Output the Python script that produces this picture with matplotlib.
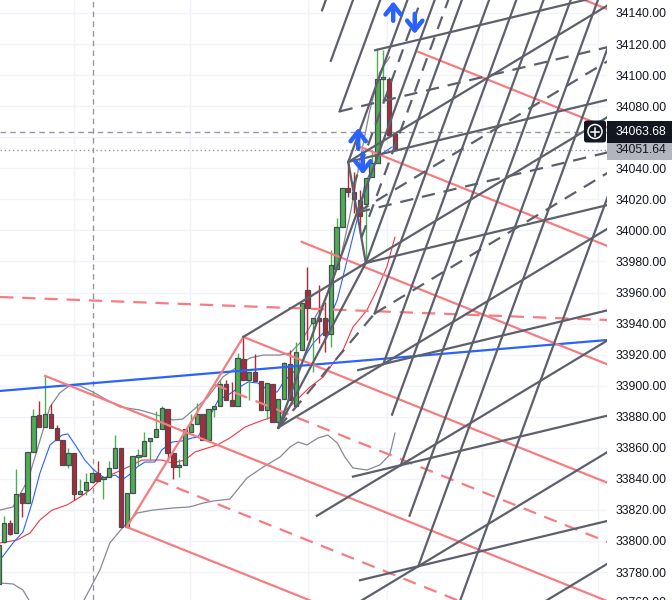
import numpy as np
import matplotlib
matplotlib.use("Agg")
import matplotlib.pyplot as plt
from matplotlib.patches import Rectangle, FancyBboxPatch, Circle

# candles, one per bar
opens = [33772.0, 33799.4, 33811.6, 33805.1, 33830.9, 33824.5, 33857.3, 33881.1, 33873.4, 33881.8,
         33872.8, 33865.0, 33848.9, 33856.7, 33830.3, 33832.8, 33838.0, 33843.8, 33839.9, 33841.2,
         33847.0, 33859.9, 33809.0, 33830.9, 33854.1, 33854.7, 33864.4, 33867.0, 33872.1, 33885.0,
         33856.7, 33847.7, 33848.9, 33870.2, 33875.3, 33881.8, 33865.0, 33885.0, 33886.9, 33901.1,
         33890.8, 33886.9, 33917.2, 33903.7, 33908.8, 33903.0, 33884.4, 33901.1, 33876.6, 33891.4,
         33914.0, 33886.9, 33923.0, 33961.6, 33940.4, 33943.6, 33943.6, 33933.3, 33975.2, 34002.2,
         34027.3, 34024.8, 34019.6, 34017.0, 34034.4, 34043.4, 34097.5, 34097.5, 34062.1]
highs = [33800.6, 33816.1, 33813.5, 33846.4, 33830.9, 33857.3, 33885.0, 33890.2, 33906.3, 33888.2,
         33874.7, 33865.0, 33859.9, 33856.7, 33839.9, 33843.8, 33843.8, 33851.5, 33841.2, 33851.5,
         33868.3, 33859.9, 33830.9, 33854.7, 33859.2, 33870.2, 33866.3, 33883.7, 33886.9, 33885.0,
         33856.7, 33852.8, 33872.1, 33881.8, 33888.9, 33881.8, 33885.0, 33886.9, 33903.7, 33903.7,
         33902.4, 33921.1, 33931.4, 33908.8, 33920.4, 33903.0, 33901.7, 33901.1, 33891.4, 33915.3,
         33923.0, 33928.2, 33953.3, 33976.5, 33943.6, 33964.9, 33953.9, 33987.4, 34008.0, 34027.3,
         34044.1, 34037.6, 34026.0, 34033.8, 34051.8, 34117.5, 34116.2, 34098.8, 34062.1]
lows = [33765.0, 33799.0, 33803.9, 33805.1, 33815.5, 33824.5, 33857.3, 33873.4, 33873.4, 33872.8,
        33865.0, 33848.9, 33847.0, 33826.4, 33830.3, 33829.6, 33838.0, 33838.6, 33827.0, 33841.2,
        33847.0, 33809.0, 33809.0, 33830.9, 33848.3, 33854.7, 33852.2, 33867.0, 33872.1, 33852.2,
        33839.9, 33841.2, 33848.9, 33870.2, 33875.3, 33865.0, 33865.0, 33879.9, 33886.9, 33890.8,
        33886.9, 33886.9, 33903.7, 33890.8, 33903.0, 33884.4, 33878.6, 33876.6, 33872.8, 33891.4,
        33890.8, 33886.9, 33923.0, 33929.4, 33908.8, 33927.5, 33921.7, 33924.9, 33975.2, 34002.2,
        34021.5, 34011.2, 33998.3, 33979.0, 34034.4, 34043.4, 34084.0, 34061.5, 34051.6]
closes = [33797.4, 33811.6, 33804.5, 33830.3, 33824.5, 33857.3, 33880.5, 33873.4, 33881.8, 33872.8,
          33865.0, 33848.9, 33856.7, 33830.3, 33832.2, 33838.0, 33843.8, 33838.6, 33841.2, 33847.0,
          33859.9, 33809.0, 33830.9, 33854.7, 33855.4, 33864.4, 33866.3, 33872.1, 33885.6, 33856.7,
          33847.7, 33848.9, 33872.1, 33875.3, 33881.8, 33865.0, 33885.0, 33886.9, 33901.1, 33890.8,
          33886.9, 33917.8, 33903.7, 33908.8, 33903.0, 33884.4, 33901.7, 33876.6, 33891.4, 33914.6,
          33890.8, 33921.7, 33953.3, 33950.0, 33943.6, 33941.7, 33932.7, 33977.7, 34002.2, 34027.3,
          34024.8, 34020.2, 34009.3, 34033.8, 34043.4, 34097.5, 34098.8, 34061.5, 34051.64]

# indicator lines, sampled as (bar index, price)
fast_x = [0.26, 2.49, 4.2, 5.75, 7.12, 8.83, 10.9, 11.9, 13.5, 14.8, 16.2, 17.4, 18.3, 20.0, 21.2,
          22.6, 23.8, 25.1, 26.8, 28.0, 29.8, 31.5, 33.2, 34.2, 35.9, 37.7, 39.4, 41.1, 42.8, 44.5,
          46.2, 47.8, 48.8, 50.3, 51.4, 52.9, 54.0, 55.7, 58.1, 59.8, 61.5, 62.9, 64.6, 65.9, 67.5]
fast_y = [33787.7, 33798.7, 33805.8, 33824.4, 33843.8, 33861.8, 33868.2, 33868.9, 33859.9, 33852.1,
          33846.3, 33842.5, 33840.5, 33842.5, 33839.3, 33843.1, 33847.6, 33850.8, 33850.8, 33858.6,
          33863.7, 33864.4, 33866.3, 33866.9, 33877.9, 33890.8, 33894.0, 33898.5, 33902.4, 33901.7,
          33897.2, 33895.9, 33901.7, 33908.2, 33910.1, 33921.0, 33927.5, 33933.9, 33955.2, 33980.9,
          34006.7, 34030.5, 34043.4, 34049.8, 34053.7]
slow_x = [0.26, 3.17, 5.4, 7.12, 9.2, 11.75, 14.0, 15.7, 17.4, 20.0, 22.2, 24.6, 28.0, 29.8, 32.0,
          33.7, 37.5, 39.7, 42.3, 44.5, 46.9, 48.6, 50.3, 53.4, 55.7, 57.4, 59.1, 60.8, 63.2, 64.9,
          66.6, 68.0]
slow_y = [33798.7, 33800.6, 33805.1, 33813.5, 33819.9, 33823.2, 33828.3, 33832.8, 33839.3, 33843.8,
          33847.6, 33852.1, 33852.1, 33850.2, 33852.1, 33857.3, 33861.8, 33866.3, 33873.4, 33876.6,
          33879.8, 33882.4, 33887.6, 33899.1, 33905.6, 33914.6, 33923.0, 33937.8, 33948.7, 33961.6,
          33976.4, 33995.7]
upper_x = [0.26, 2.49, 5.06, 6.78, 8.83, 10.5, 12.3, 14.0, 16.2, 18.6, 20.8, 24.3, 27.2, 29.9, 31.6,
           33.4, 35.8, 38.5, 40.9, 43.1, 45.4, 48.3, 50.0, 51.7, 53.4, 55.7, 57.4, 58.6, 60.3, 62.0,
           63.7, 65.4, 67.1]
upper_y = [33819.9, 33821.9, 33839.3, 33860.5, 33886.3, 33895.3, 33900.4, 33899.8, 33895.9, 33890.8,
           33886.3, 33884.3, 33881.1, 33877.9, 33878.5, 33884.3, 33892.1, 33905.6, 33912.0, 33917.8,
           33919.7, 33919.7, 33921.0, 33927.5, 33937.8, 33953.3, 33968.0, 33980.9, 34009.9, 34045.3,
           34077.5, 34102.0, 34111.7]
lower_x = [0.26, 2.49, 4.2, 5.4, 14.5, 17.4, 19.1, 21.4, 23.8, 26.5, 29.9, 32.8, 35.1, 36.8, 39.7,
           42.6, 45.4, 48.3, 50.0, 51.4, 52.9, 54.8, 56.5, 58.1, 59.4, 60.8, 63.2, 65.4, 67.1, 68.0]
lower_y = [33772.9, 33772.3, 33768.4, 33760.7, 33760.7, 33781.3, 33798.7, 33809.0, 33818.0, 33819.9,
           33821.2, 33821.9, 33824.4, 33825.7, 33827.0, 33840.5, 33847.6, 33854.1, 33860.5, 33863.7,
           33861.8, 33866.3, 33868.2, 33863.1, 33854.1, 33847.0, 33845.7, 33848.9, 33855.4, 33869.5]

# drawings
blue_trend_x = [0.26, 104.4]
blue_trend_y = [33896.6, 33929.4]
red_dash_x = [0.26, 104.4]
red_dash_y = [33957.1, 33942.3]

red_fork_bars = [8, 22, 42]          # high, low, high
red_levels = [-1, -0.5, 0, 0.5, 1, 2, 3, 4, 5]
grey_fork_bars = [48, 60, 63]        # low, high, low
grey_levels = [-4, -3, -2, -1, -0.5, 0, 0.5, 1, 2, 3, 4, 5, 6, 7, 9]

# lines from grey fork level points, two slopes (price per bar)
t_slope = 0.9
s_lines = [(-1, 60, "-"), (1, 42, "-"), (3, 48, "-"), (5, 54.6, "-"), (7, 55, "-"), (9, 60, "-"),
           (0, 61.5, "--"), (2, 64.5, "--")]
t_lines = [(-3, 64.6, "-"), (-2, 58.5, "--"), (-1, 60, "-"), (0, 61.5, "--"), (1, 63, "-"),
           (3, 61.7, "-"), (5, 60.8, "-"), (7, 62, "-")]
# fan segments from the grey fork's first point to level points
fan_levels = [(1, "-"), (2, "--")]

# arrow marks: bar, tail price, head price
arrows = [(67.7, 34135.0, 34147.6), (71.4, 34139.5, 34126.5),
          (61.7, 34052.5, 34066.0), (62.5, 34049.5, 34036.0)]

price_ticks = np.arange(33780, 34141, 20)
cross_price = 34063.68
last_price = 34051.64
cross_bar = 16.2
vgrid_bars = [12.95, 32.85, 53.1, 66.6, 82.9, 102.8]

GREEN = "#4caf50"
RED = "#b22833"
GREY = "#5d606b"
PINK = "#f77c80"
BLUE = "#2962ff"
YMIN, YMAX = 33761.97, 34148.37

W, H = 672, 600
fig = plt.figure(figsize=(W / 100, H / 100), dpi=100)
ax = fig.add_axes([0, 0, 607 / W, 1])
ax.set_xlim(0.26, 104.37)
ax.set_ylim(YMIN, YMAX)
for s in ax.spines.values():
    s.set_visible(False)
ax.set_xticks([])
ax.yaxis.tick_right()
ax.set_yticks(price_ticks)
# the 34060 label sits under the crosshair price box
ax.set_yticklabels(["" if abs(v - 34060) < 1 else f"{v:.2f}" for v in price_ticks],
                   family="Liberation Sans")
ax.tick_params(axis="y", length=0, pad=6, labelsize=8.7, labelcolor="#131722")
for v in price_ticks:
    ax.axhline(v, color="#f0f3fa", lw=1, zorder=0)
for b in vgrid_bars:
    ax.axvline(b, color="#f0f3fa", lw=1, zorder=0)

# indicators
ax.plot(upper_x, upper_y, color="#868993", lw=0.9, zorder=2)
ax.plot(lower_x, lower_y, color="#868993", lw=0.9, zorder=2)
ax.plot(slow_x, slow_y, color="#f23645", lw=0.8, zorder=2)
ax.plot(fast_x, fast_y, color=BLUE, lw=0.8, zorder=2)

# candles
for i in range(len(opens)):
    o, h, l, c = opens[i], highs[i], lows[i], closes[i]
    up = c >= o
    ax.vlines(i, l, h, color=GREEN if up else RED, lw=1, zorder=3)
    bot = min(o, c)
    ht = max(abs(c - o), 1.2)
    ax.add_patch(Rectangle((i - 0.37, bot), 0.74, ht, fc=GREEN if up else RED,
                           ec="#4a4d57", lw=0.9, zorder=4))

# crosshair + price lines
ax.axvline(cross_bar, color="#9598a1", lw=1, dashes=(4, 3), zorder=1)
ax.axhline(cross_price, color="#9598a1", lw=1, dashes=(4, 3), zorder=1)
ax.axhline(last_price, color="#9598a1", lw=1, dashes=(1, 2), zorder=1)

# blue trend line and red dashed line
ax.plot(blue_trend_x, blue_trend_y, color=BLUE, lw=1.6, zorder=5)
ax.plot(red_dash_x, red_dash_y, color=PINK, lw=1.6, dashes=(6, 4), zorder=5)


def fork(bars, kinds, levels, color):
    pts = []
    for b, k in zip(bars, kinds):
        pts.append(np.array([b, highs[b] if k == "h" else lows[b]]))
    a, b, c = pts
    m = (b + c) / 2
    d = m - a
    for lv in levels:
        start = a if lv == 0 else m + lv * (c - m)
        end = start + d * 8
        ls = dict(dashes=(6, 4)) if lv in (0.5, -0.5) else {}
        ax.plot([start[0], end[0]], [start[1], end[1]], color=color, lw=1.6, zorder=5, **ls)
    ax.plot([b[0], c[0]], [b[1], c[1]], color=color, lw=1.6, zorder=5)
    return a, b, c, m


fork(red_fork_bars, "hlh", red_levels, PINK)
ga, gb, gc, gm = fork(grey_fork_bars, "lhl", grey_levels, GREY)

# slope of the gentle family: from red fork C to grey fork C
rc = np.array([red_fork_bars[2], highs[red_fork_bars[2]]])
s_slope = (gc[1] - rc[1]) / (gc[0] - rc[0])


def level_pt(k):
    return gm + k * (gc - gm)


for k, x0, st in s_lines:
    p = level_pt(k)
    xs = np.array([x0, 110])
    ys = p[1] + s_slope * (xs - p[0])
    kw = dict(dashes=(6, 4)) if st == "--" else {}
    ax.plot(xs, ys, color=GREY, lw=1.6, zorder=5, **kw)
for k, x0, st in t_lines:
    p = level_pt(k)
    xs = np.array([x0, 110])
    ys = p[1] + t_slope * (xs - p[0])
    kw = dict(dashes=(6, 4)) if st == "--" else {}
    ax.plot(xs, ys, color=GREY, lw=1.6, zorder=5, **kw)
for k, st in fan_levels:
    p = level_pt(k)
    kw = dict(dashes=(6, 4)) if st == "--" else {}
    ax.plot([ga[0], p[0]], [ga[1], p[1]], color=GREY, lw=1.6, zorder=5, **kw)

# arrow marks
for bx, y0, y1 in arrows:
    ax.annotate("", xy=(bx, y1), xytext=(bx, y0),
                arrowprops=dict(arrowstyle="->,head_length=0.7,head_width=0.55",
                                color=BLUE, lw=3.2, shrinkA=0, shrinkB=0), zorder=6)


# price labels on the axis
def fy(p):
    return (p - YMIN) / (YMAX - YMIN)


fig.text(616 / W, fy(33760), "33760.00", color="#131722", fontsize=8.7,
         family="Liberation Sans", va="center")
fig.patches.append(Rectangle((607 / W, fy(last_price) - 10 / H), 65 / W, 20 / H,
                             transform=fig.transFigure, fc="#b2b5be", ec="none", zorder=2))
fig.text(616 / W, fy(last_price), f"{last_price:.2f}", color="#131722", fontsize=8.7,
         family="Liberation Sans", va="center", zorder=4)
fig.patches.append(Rectangle((607 / W, fy(cross_price) - 11 / H), 65 / W, 22 / H,
                             transform=fig.transFigure, fc="#131722", ec="none", zorder=3))
fig.text(616 / W, fy(cross_price), f"{cross_price:.2f}", color="white", fontsize=8.7,
         family="Liberation Sans", va="center", zorder=4)
fig.patches.append(FancyBboxPatch((584 / W, fy(cross_price) - 11 / H), 22 / W, 22 / H,
                                  boxstyle="round,pad=0,rounding_size=0.004",
                                  transform=fig.transFigure, fc="#131722", ec="none", zorder=3))
cx, cy = 595 / W, fy(cross_price)
fig.patches.append(Circle((595, cy * H), 7, transform=None, fc="none", ec="white", lw=1.1,
                          zorder=5))
fig.lines.append(plt.Line2D([cx - 4 / W, cx + 4 / W], [cy, cy], color="white", lw=1.1,
                            transform=fig.transFigure, zorder=5))
fig.lines.append(plt.Line2D([cx, cx], [cy - 4 / H, cy + 4 / H], color="white", lw=1.1,
                            transform=fig.transFigure, zorder=5))

fig.savefig("out.png", dpi=100)
